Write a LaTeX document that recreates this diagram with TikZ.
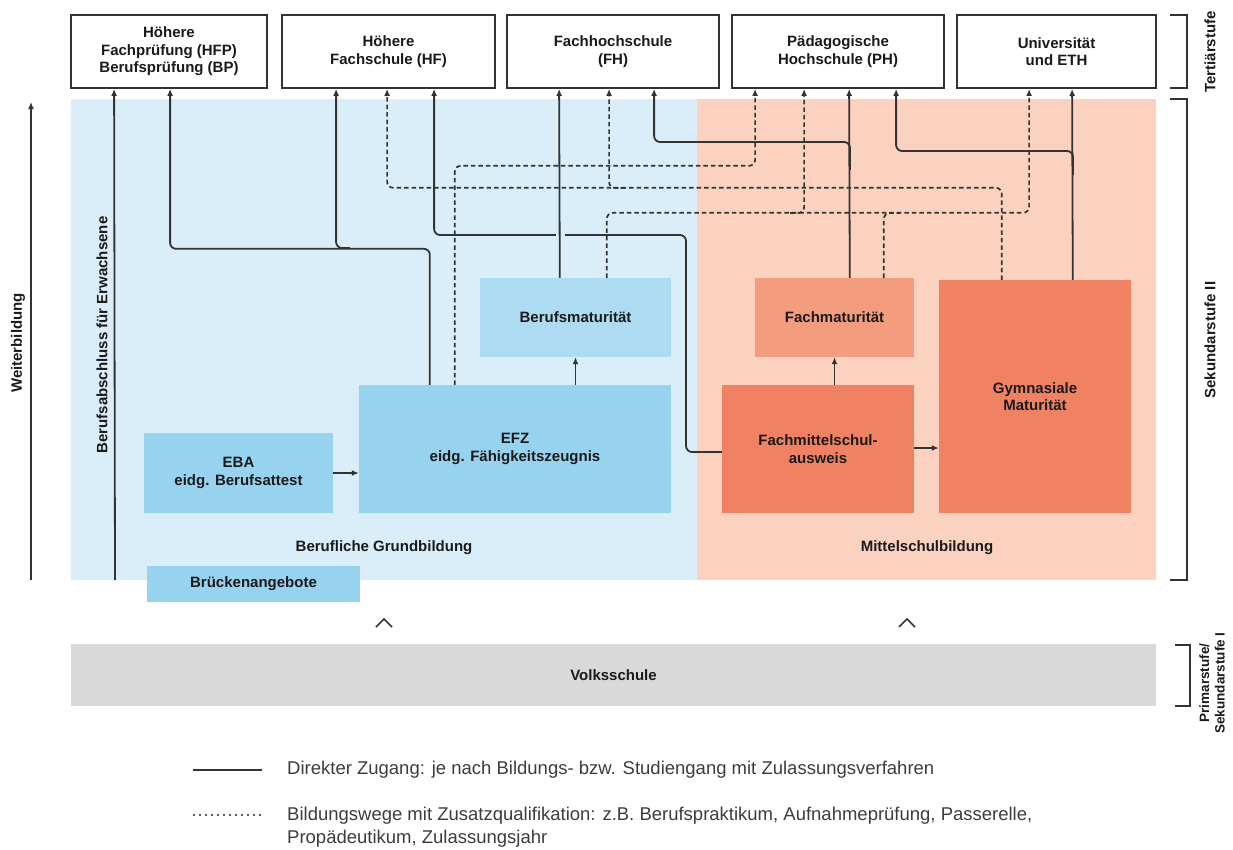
\documentclass[tikz,border=0pt]{standalone}
\usepackage{fontspec}
\setmainfont{Liberation Sans}
\usetikzlibrary{arrows.meta}
\definecolor{bgblue}{HTML}{D9EEF9}
\definecolor{bgorange}{HTML}{FBD1BF}
\definecolor{bmblue}{HTML}{ADDCF2}
\definecolor{efzblue}{HTML}{97D3EF}
\definecolor{fmorange}{HTML}{F39D7E}
\definecolor{gymorange}{HTML}{F08263}
\definecolor{volksgray}{HTML}{D9D9D9}
\definecolor{linegray}{HTML}{333333}
\definecolor{txt}{HTML}{1A1A1A}
\definecolor{legtxt}{HTML}{3C3C3C}
\begin{document}
\begin{tikzpicture}[x=1pt,y=-1pt,
  lbl/.style={font=\bfseries\fontsize{15}{17.5}\selectfont, text=txt, align=center, inner sep=0pt},
  topbox/.style={lbl, draw=linegray, line width=1.8pt, fill=white, minimum height=73pt, minimum width=#1},
  fbox/.style={lbl, minimum width=#1},
  conn/.style={draw=linegray, line width=1.8pt, rounded corners=6pt},
  dconn/.style={conn, dash pattern=on 4.5pt off 3pt, line width=1.7pt},
  tip/.style={-{Latex[length=7pt,width=6pt]}},
  sidelbl/.style={lbl, rotate=90},
  legend/.style={font=\fontsize{18.5}{23}\selectfont, text=legtxt, inner sep=0pt, align=left},
  bracket/.style={draw=linegray, line width=1.8pt}
]
\useasboundingbox (0,0) rectangle (1233,849);

% background regions
\fill[bgblue] (71,99) rectangle (697,580);
\fill[bgorange] (697,99) rectangle (1156,580);

% top boxes
\node[topbox=196pt] (hfp) at (169,51.5) {Höhere\\Fachprüfung (HFP)\\Berufsprüfung (BP)};
\node[topbox=213pt] (hf) at (388.5,51.5) {Höhere\\Fachschule (HF)};
\node[topbox=212pt] (fh) at (613,51.5) {Fachhochschule\\(FH)};
\node[topbox=212pt] (ph) at (838,51.5) {Pädagogische\\Hochschule (PH)};
\node[topbox=199pt] (uni) at (1056.5,51.5) {Universität\\und ETH};

% inner boxes
\node[fbox=191pt, minimum height=79pt, fill=bmblue] (bm) at (575.5,317.5) {Berufsmaturität};
\node[fbox=312pt, minimum height=128pt, fill=efzblue] (efz) at (515,449) {EFZ\\eidg. Fähigkeitszeugnis};
\node[fbox=189pt, minimum height=80pt, fill=efzblue] (eba) at (238.5,473) {EBA\\eidg. Berufsattest};
\node[fbox=213pt, minimum height=36pt, fill=efzblue] (bru) at (253.5,584) {Brückenangebote};
\node[fbox=159pt, minimum height=79pt, fill=fmorange] (fm) at (834.5,317.5) {Fachmaturität};
\node[fbox=192pt, minimum height=128pt, fill=gymorange] (fms) at (818,449) {Fachmittelschul-\\ausweis};
\node[fbox=192pt, minimum height=233pt, fill=gymorange] (gym) at (1035,396.5) {Gymnasiale\\Maturität};
\node[fbox=1085pt, minimum height=62pt, fill=volksgray] (volks) at (613.5,675) {Volksschule};

\node[lbl] (bg) at (384,548) {Berufliche Grundbildung};
\node[lbl] (msb) at (927,548) {Mittelschulbildung};

% side labels
\node[sidelbl] (wbl) at (18,343) {Weiterbildung};
\node[sidelbl] (bael) at (102,335) {Berufsabschluss für Erwachsene};
\node[sidelbl] (tert) at (1210,52) {Tertiärstufe};
\node[sidelbl] (sek2) at (1210,340) {Sekundarstufe II};
\node[sidelbl, font=\bfseries\fontsize{13.5}{15.5}\selectfont] (prim) at (1212,683) {Primarstufe/\\Sekundarstufe I};

% brackets
\draw[bracket] (1170,15) -- (1187,15) -- (1187,88) -- (1170,88);
\draw[bracket] (1170,99) -- (1187,99) -- (1187,580) -- (1170,580);
\draw[bracket] (1175,645) -- (1190,645) -- (1190,706) -- (1175,706);

% carets
\draw[linegray, line width=1.6pt] (376,627) -- (384,619) -- (392,627);
\draw[linegray, line width=1.6pt] (899,627) -- (907,619) -- (915,627);

% free ends
\coordinate (wb1) at (31,580);
\coordinate (wb2) at (31,102);
\coordinate (bae) at (115,580);
\coordinate (j1) at (350,248);
\coordinate (j2) at (850,170);
\coordinate (j3) at (1073,175);
\coordinate (j4) at (625,188);
\coordinate (j5) at (790,213);
\coordinate (j6) at (900,213);

% solid connectors
\draw[conn, tip] (wb1) -- (wb2);
\draw[conn, tip] (bae) -- ([xshift=44pt]hfp.south west);
\draw[conn, tip] ([xshift=71pt]efz.north west) -- ++(0,-136) -| ([xshift=100pt]hfp.south west);
\draw[conn, tip] (j1) -| ([xshift=55pt]hf.south west);
\draw[conn, tip] ([yshift=-3pt]fms.west) -| (686,235) -| ([xshift=153pt]hf.south west);
\draw[bgblue, line width=9pt] (560,230) -- (560,240);
\draw[conn, tip] ([xshift=80pt]bm.north west) -- ([xshift=53pt]fh.south west);
\draw[conn, tip] ([xshift=95pt]fm.north west) -- ([xshift=118pt]ph.south west);
\draw[conn, tip] (j2) -- ++(0,-28) -| ([xshift=148pt]fh.south west);
\draw[conn, tip] ([xshift=134pt]gym.north west) -- ([xshift=116pt]uni.south west);
\draw[conn, tip] (j3) -- ++(0,-24) -| ([xshift=165pt]ph.south west);

% dashed connectors
\draw[dconn, tip] ([xshift=96pt]efz.north west) -- ++(0,-219) -| ([xshift=24pt]ph.south west);
\draw[dconn, tip] ([xshift=63pt]gym.north west) -- ++(0,-92) -| ([xshift=106pt]hf.south west);
\draw[dconn, tip] (j4) -| ([xshift=103pt]fh.south west);
\draw[dconn, tip] ([xshift=127pt]bm.north west) -- ++(0,-65) -| ([xshift=73pt]uni.south west);
\draw[dconn, tip] (j5) -| ([xshift=73pt]ph.south west);
\draw[dconn] ([xshift=129pt]fm.north west) |- (j6);

% short arrows
\draw[conn, tip] (eba.east) -- (eba.east -| efz.west);
\draw[conn, tip] (efz.north -| bm.south) -- (bm.south);
\draw[conn, tip] (fms.north -| fm.south) -- (fm.south);
\draw[conn, tip] ([yshift=1pt]fms.east) -- ([yshift=1pt]fms.east -| gym.west);

% legend
\coordinate (l1a) at (193,770);
\coordinate (l1b) at (262,770);
\coordinate (l2a) at (193,815);
\coordinate (l2b) at (262,815);
\draw[linegray, line width=2.2pt] (l1a) -- (l1b);
\draw[linegray!80, line width=1.8pt, dash pattern=on 1.5pt off 4.5pt] (l2a) -- (l2b);
\node[legend, anchor=west] (leg1) at (287,770) {Direkter Zugang: je nach Bildungs- bzw. Studiengang mit Zulassungsverfahren};
\node[legend, anchor=west] (leg2) at (287,827) {Bildungswege mit Zusatzqualifikation: z.B. Berufspraktikum, Aufnahmeprüfung, Passerelle,\\Propädeutikum, Zulassungsjahr};
\end{tikzpicture}
\end{document}
